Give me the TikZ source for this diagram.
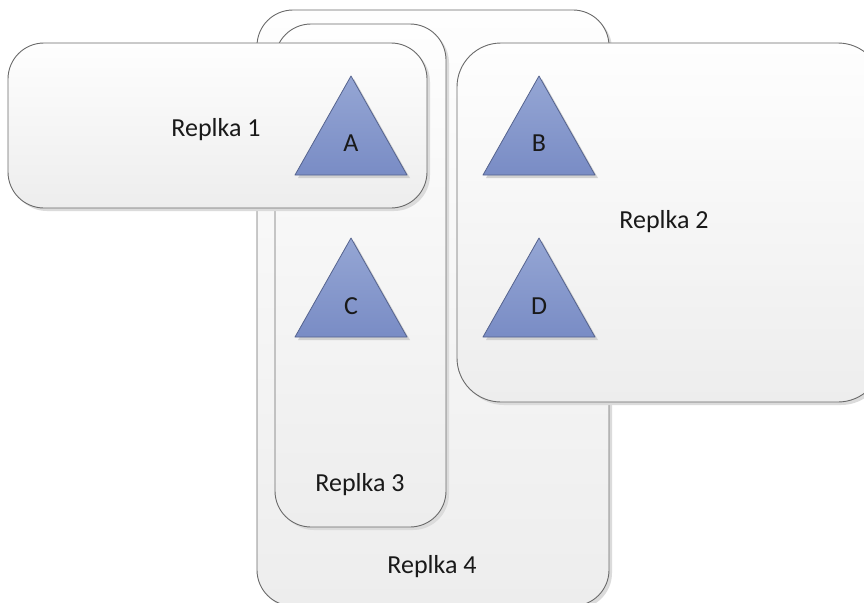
\documentclass[tikz,border=0pt]{standalone}
\usepackage{fontspec}
\setmainfont{Carlito}
\usetikzlibrary{shadows}

\definecolor{boxline}{HTML}{6A6A6A}
\definecolor{boxtop}{HTML}{FEFEFE}
\definecolor{boxbot}{HTML}{EDEDED}
\definecolor{tritop}{HTML}{95A6D4}
\definecolor{tribot}{HTML}{798CC5}
\definecolor{triline}{HTML}{55638E}

\tikzset{
  replica/.style={draw=boxline, line width=0.9pt, rounded corners=36pt,
    top color=boxtop, bottom color=boxbot,
    drop shadow={shadow xshift=3pt, shadow yshift=-3pt, fill=black!14, opacity=1}},
  shard/.style={draw=triline, line width=0.8pt, line join=round,
    top color=tritop, bottom color=tribot,
    drop shadow={shadow xshift=3pt, shadow yshift=-3pt, fill=black!18, opacity=1}},
  lbl/.style={font=\fontsize{26}{30}\selectfont, text=black!90, inner sep=0pt}
}

\begin{document}
\begin{tikzpicture}[x=1pt,y=-1pt]
  \useasboundingbox (0,0) rectangle (864,602);
  \clip (0,0) rectangle (864,602);
  % replica groups, back to front
  \path[replica] (257,10) rectangle (609,606);
  \path[replica] (275,24) rectangle (446,527);
  \path[replica] (8,43) rectangle (427,208);
  \path[replica,rounded corners=44pt] (457,43) rectangle (882,402);
  % shards
  \path[shard] (295,175) -- (351,76) -- (407,175) -- cycle;
  \path[shard] (483,175) -- (539,76) -- (595,175) -- cycle;
  \path[shard] (295,337) -- (351,238) -- (407,337) -- cycle;
  \path[shard] (483,337) -- (539,238) -- (595,337) -- cycle;
  \node[lbl] (A) at (351,143) {A};
  \node[lbl] (B) at (539,143) {B};
  \node[lbl] (C) at (351,306) {C};
  \node[lbl] (D) at (539,306) {D};
  % group captions
  \node[lbl] (r1) at (216,130) {Replka 1};
  \node[lbl] (r2) at (664,222) {Replka 2};
  \node[lbl] (r3) at (360,485) {Replka 3};
  \node[lbl] (r4) at (432,567) {Replka 4};
\end{tikzpicture}
\end{document}
